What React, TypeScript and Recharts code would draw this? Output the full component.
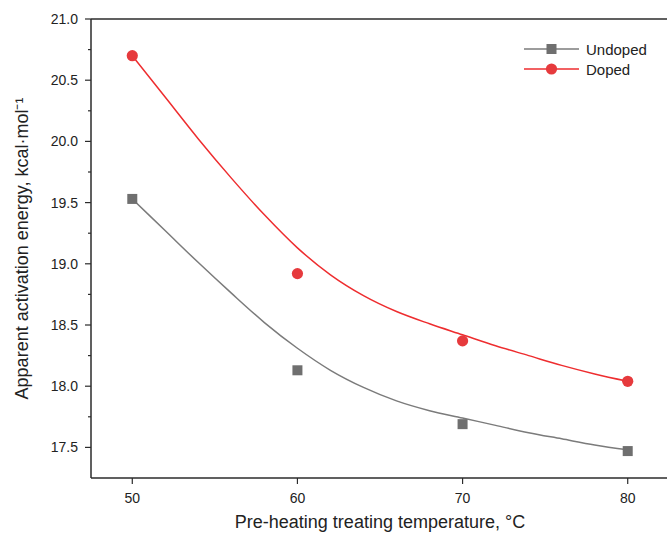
import {
  ComposedChart,
  Line,
  Scatter,
  XAxis,
  YAxis,
  Legend,
  ReferenceLine,
} from "recharts";

// measured points
const temps = [50, 60, 70, 80];
const undoped = [19.53, 18.13, 17.69, 17.47];
const doped = [20.7, 18.92, 18.37, 18.04];

// fitted curves
const fitTemps = [50, 52, 54, 56, 58, 60, 62, 64, 66, 68, 70, 72, 74, 76, 78, 80];
const undopedFit = [19.53, 19.27, 19.01, 18.76, 18.52, 18.31, 18.13, 17.99, 17.88, 17.8, 17.74, 17.68, 17.62, 17.57, 17.52, 17.48];
const dopedFit = [20.7, 20.36, 20.02, 19.7, 19.4, 19.13, 18.91, 18.74, 18.61, 18.51, 18.42, 18.33, 18.25, 18.17, 18.1, 18.04];

const xTicks = [50, 60, 70, 80];
const yTicks = [17.5, 17.75, 18, 18.25, 18.5, 18.75, 19, 19.25, 19.5, 19.75, 20, 20.25, 20.5, 20.75, 21];

const names = ["Undoped", "Doped"];

const GRAY = "#6f6f6f";
const GRAY_LINE = "#7b7b7b";
const RED = "#e63a3d";
const RED_LINE = "#ee2d2f";
const AXIS = "#2b2b2b";
const FONT = "'Liberation Sans', Arial, sans-serif";

const undopedPts = temps.map((t, i) => ({ x: t, y: undoped[i] }));
const dopedPts = temps.map((t, i) => ({ x: t, y: doped[i] }));
const fitData = fitTemps.map((t, i) => ({ x: t, undoped: undopedFit[i], doped: dopedFit[i] }));

const Square = (props: any) => (
  <rect x={props.cx - 5} y={props.cy - 5} width={10} height={10} fill={GRAY} />
);
const Dot = (props: any) => <circle cx={props.cx} cy={props.cy} r={5.6} fill={RED} />;

const YTick = ({ x, y, payload }: any) => {
  const v = payload.value;
  const major = Math.abs(v * 2 - Math.round(v * 2)) < 1e-6;
  const axisX = x + 13;
  return (
    <g>
      <line x1={axisX - (major ? 6 : 3)} x2={axisX} y1={y} y2={y} stroke={AXIS} strokeWidth={1.2} />
      {major && (
        <text x={x} y={y} textAnchor="end" dominantBaseline="central" fontSize={14} fill="#222" fontFamily={FONT}>
          {v.toFixed(1)}
        </text>
      )}
    </g>
  );
};

const renderLegend = () => (
  <div style={{ fontFamily: FONT, fontSize: 15, color: "#222" }}>
    {names.map((n, i) => (
      <div key={n} style={{ display: "flex", alignItems: "center", height: 20 }}>
        <svg width={62} height={20}>
          <line x1={0} x2={55} y1={10} y2={10} stroke={i === 0 ? GRAY_LINE : RED_LINE} strokeWidth={1.5} />
          {i === 0 ? (
            <rect x={22.5} y={5} width={10} height={10} fill={GRAY} />
          ) : (
            <circle cx={27.5} cy={10} r={5.6} fill={RED} />
          )}
        </svg>
        <span>{n}</span>
      </div>
    ))}
  </div>
);

export default function App() {
  return (
    <div style={{ position: "absolute", left: 0, top: 0, width: 667, height: 547, overflow: "hidden", background: "#fff" }}>
      <ComposedChart width={680} height={547} margin={{ top: 19, right: 11, bottom: 0, left: 0 }}>
        <XAxis
          type="number"
          dataKey="x"
          domain={[47.5, 82.5]}
          ticks={xTicks}
          height={69}
          tickSize={6}
          tickMargin={9}
          axisLine={{ stroke: AXIS, strokeWidth: 1.5 }}
          tickLine={{ stroke: AXIS, strokeWidth: 1.2 }}
          tick={{ fontSize: 14, fill: "#222", fontFamily: FONT }}
          label={{ value: "Pre-heating treating temperature, °C", position: "insideBottom", offset: 19, fontSize: 18, fill: "#222", fontFamily: FONT }}
          allowDataOverflow
        />
        <YAxis
          type="number"
          domain={[17.25, 21]}
          ticks={yTicks}
          width={91}
          tickSize={6}
          tickMargin={7}
          tickLine={false}
          interval={0}
          axisLine={{ stroke: AXIS, strokeWidth: 1.5 }}
          tick={<YTick />}
          allowDataOverflow
          label={{
            value: "Apparent activation energy, kcal·mol⁻¹",
            angle: -90,
            position: "insideLeft",
            offset: 22,
            fontSize: 18,
            fill: "#222",
            fontFamily: FONT,
            style: { textAnchor: "middle" },
          }}
        />
        <ReferenceLine y={21} stroke={AXIS} strokeWidth={1.5} />
        <Line data={fitData} dataKey="undoped" name={names[0]} type="monotone" stroke={GRAY_LINE} strokeWidth={1.5} dot={false} isAnimationActive={false} legendType="none" />
        <Line data={fitData} dataKey="doped" name={names[1]} type="monotone" stroke={RED_LINE} strokeWidth={1.5} dot={false} isAnimationActive={false} legendType="none" />
        <Scatter data={undopedPts} dataKey="y" name={names[0]} shape={<Square />} isAnimationActive={false} />
        <Scatter data={dopedPts} dataKey="y" name={names[1]} shape={<Dot />} isAnimationActive={false} />
        <Legend
          content={renderLegend}
          layout="horizontal"
          verticalAlign="middle"
          align="center"
          wrapperStyle={{ position: "absolute", left: 524, top: 39, width: 140 }}
        />
      </ComposedChart>
    </div>
  );
}
